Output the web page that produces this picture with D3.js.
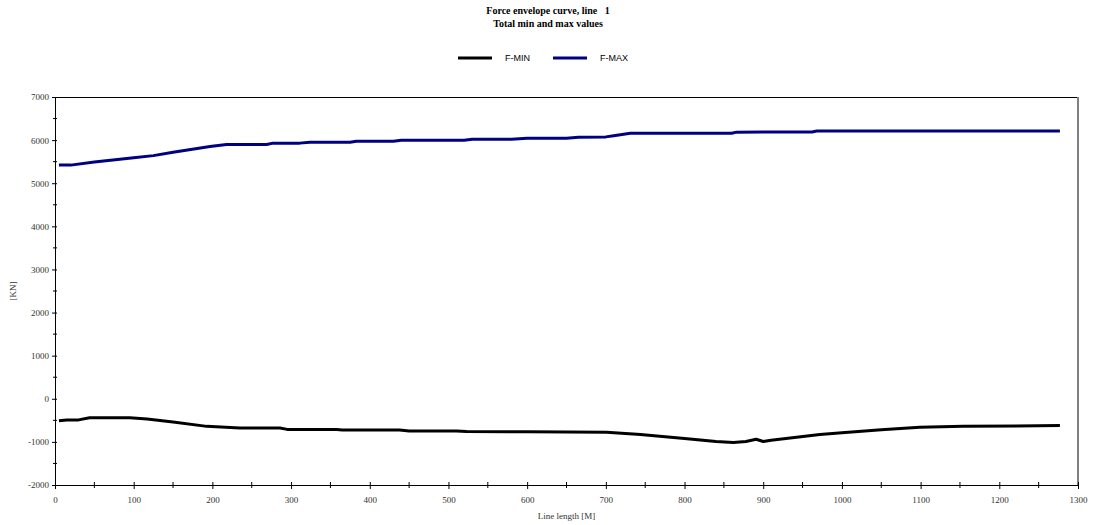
<!DOCTYPE html>
<head>
  <meta charset="utf-8">
  <script src="https://d3js.org/d3.v7.min.js"></script>
  <style>
  body { margin: 0; background: #fff; }
  .title { font-family: "Liberation Serif", "Times New Roman", serif; font-weight: bold; font-size: 10px; }
  .axis text { font-family: "Liberation Serif", "Times New Roman", serif; font-size: 9px; fill: #333; }
  .axis path, .axis line { stroke: #000; }
  .legend text { font-family: "Liberation Sans", Arial, sans-serif; font-size: 9px; }
  .curve { fill: none; stroke-width: 3px; stroke-linejoin: round; }
</style>
</head>
<body>
<svg width="1093" height="525"></svg>

<script type="text/javascript">
// values: line length [M] and force [KN]
var fmaxLength = [5, 20, 50, 100, 125, 150, 197, 218, 269, 277, 311, 324, 375, 383, 430, 440, 520, 530, 580, 600, 650, 665, 700, 710, 731, 860, 866, 900, 962, 968, 1277];
var fmaxForce  = [5420, 5420, 5490, 5590, 5640, 5720, 5850, 5900, 5900, 5930, 5930, 5950, 5950, 5975, 5975, 5995, 5995, 6020, 6020, 6045, 6045, 6065, 6075, 6100, 6160, 6160, 6185, 6190, 6190, 6210, 6210];

var fminLength = [5, 15, 30, 44, 95, 117, 150, 193, 235, 286, 295, 358, 365, 438, 450, 510, 523, 600, 701, 744, 800, 840, 862, 878, 891, 900, 910, 972, 1000, 1050, 1099, 1154, 1277];
var fminForce  = [-510, -495, -490, -440, -440, -470, -540, -640, -680, -680, -710, -710, -726, -726, -745, -745, -760, -765, -775, -830, -920, -990, -1015, -990, -940, -990, -960, -830, -790, -720, -660, -640, -620];

var series = [
  { name: "F-MIN", color: "#000000", x: fminLength, y: fminForce },
  { name: "F-MAX", color: "#000080", x: fmaxLength, y: fmaxForce }
];

var xMajor = d3.range(0, 1301, 100);
var xMinor = d3.range(50, 1300, 100);
var yMajor = d3.range(-2000, 7001, 1000);
var yMinor = d3.range(-1500, 7000, 1000);

var margin = { left: 55, right: 1078, top: 97, bottom: 485 };

var svg = d3.select("svg");

var x = d3.scaleLinear().domain([0, 1300]).range([margin.left, margin.right]);
var y = d3.scaleLinear().domain([-2000, 7000]).range([margin.bottom, margin.top]);

var plain = function (d) { return String(d); };

// titles
svg.append("text").attr("class", "title").attr("x", 548).attr("y", 14)
  .attr("text-anchor", "middle").attr("xml:space", "preserve").text("Force envelope curve, line   1");
svg.append("text").attr("class", "title").attr("x", 548).attr("y", 27)
  .attr("text-anchor", "middle").text("Total min and max values");

// legend
var legend = svg.append("g").attr("class", "legend");
var legendX = [458, 553];
series.forEach(function (s, i) {
  legend.append("line")
    .attr("x1", legendX[i]).attr("x2", legendX[i] + 34)
    .attr("y1", 58).attr("y2", 58)
    .attr("stroke", s.color).attr("stroke-width", 3);
  legend.append("text").attr("x", legendX[i] + 47).attr("y", 61).text(s.name);
});

// frame: top and right edges
svg.append("line").attr("x1", margin.left).attr("x2", margin.right)
  .attr("y1", margin.top + 0.5).attr("y2", margin.top + 0.5).attr("stroke", "#000");
svg.append("line").attr("x1", margin.right).attr("x2", margin.right)
  .attr("y1", margin.top).attr("y2", margin.bottom).attr("stroke", "#808080").attr("stroke-width", 2);

// x axis
var xAxis = svg.append("g").attr("class", "axis")
  .attr("transform", "translate(0," + margin.bottom + ")")
  .call(d3.axisBottom(x).tickValues(xMajor).tickFormat(plain).tickSize(4).tickSizeOuter(0));
xAxis.selectAll(".tick line").attr("y1", -3);
xAxis.selectAll(".tick text").attr("dy", "1.2em");
xAxis.selectAll(".minor").data(xMinor).enter().append("line")
  .attr("x1", function (d) { return x(d); }).attr("x2", function (d) { return x(d); })
  .attr("y1", -3).attr("y2", 3).attr("stroke", "#000");

svg.append("text").attr("class", "axis")
  .attr("x", x(650)).attr("y", 519).attr("text-anchor", "middle")
  .style("font-family", "Liberation Serif, serif").style("font-size", "9px").style("fill", "#333")
  .text("Line length [M]");

// y axis
var yAxis = svg.append("g").attr("class", "axis")
  .attr("transform", "translate(" + margin.left + ",0)")
  .call(d3.axisLeft(y).tickValues(yMajor).tickFormat(plain).tickSize(3).tickSizeOuter(0));
yAxis.selectAll(".tick line").attr("x1", 2).attr("x2", -3);
yAxis.selectAll(".minor").data(yMinor).enter().append("line")
  .attr("y1", function (d) { return y(d); }).attr("y2", function (d) { return y(d); })
  .attr("x1", -2).attr("x2", 2).attr("stroke", "#000");

svg.append("text")
  .attr("transform", "translate(16," + y(2500) + ") rotate(-90)")
  .attr("text-anchor", "middle")
  .style("font-family", "Liberation Serif, serif").style("font-size", "9px").style("fill", "#333")
  .text("[KN]");

// curves
var line = d3.line()
  .x(function (d) { return x(d[0]); })
  .y(function (d) { return y(d[1]); });

series.forEach(function (s) {
  svg.append("path")
    .datum(d3.zip(s.x, s.y))
    .attr("class", "curve")
    .attr("stroke", s.color)
    .attr("d", line);
});
</script>
</body>
</html>
